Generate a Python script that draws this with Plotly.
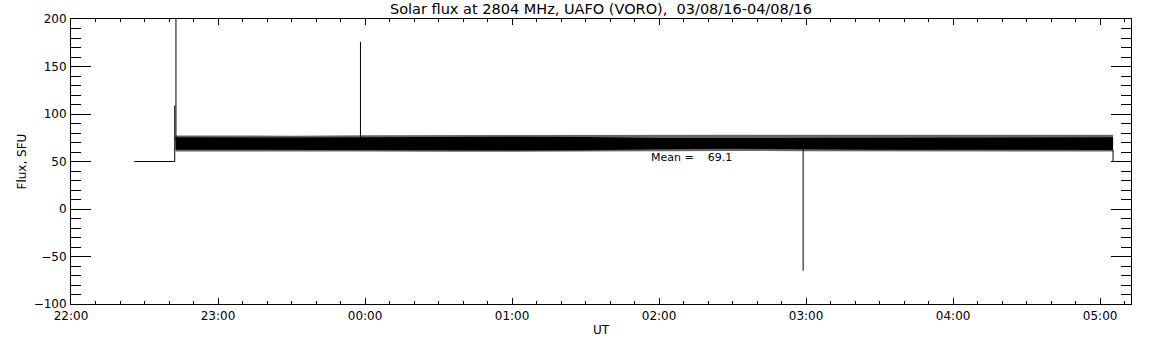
import plotly.graph_objects as go

# ---------------- data ----------------
title_text = "Solar flux at 2804 MHz, UAFO (VORO),\u00a0\u00a003/08/16-04/08/16"
x_range = ["2016-08-03 22:00:00", "2016-08-04 05:12:36"]
y_range = [-100, 200]
x_tick_vals = ["2016-08-03 22:00", "2016-08-03 23:00", "2016-08-04 00:00",
               "2016-08-04 01:00", "2016-08-04 02:00", "2016-08-04 03:00",
               "2016-08-04 04:00", "2016-08-04 05:00"]
x_tick_text = ["22:00", "23:00", "00:00", "01:00", "02:00", "03:00", "04:00", "05:00"]
y_tick_vals = [-100, -50, 0, 50, 100, 150, 200]

# flat calibration level before the run
base_t = ["2016-08-03 22:25:50", "2016-08-03 22:42:20", "2016-08-03 22:42:20"]
base_v = [50, 50, 109]

# isolated spikes (vertical strokes) and the final drop
spike_t = ["2016-08-03 22:42:50", "2016-08-03 22:42:50", None,
           "2016-08-03 23:58:08", "2016-08-03 23:58:08", None,
           "2016-08-04 02:58:48", "2016-08-04 02:58:48", None,
           "2016-08-04 05:05:17", "2016-08-04 05:05:17"]
spike_v = [72, 240, None,
           74, 176, None,
           63, -65, None,
           62, 50]

# envelope of the dense noisy record
band_t = ["2016-08-03 22:42:40", "2016-08-03 23:00", "2016-08-03 23:30",
          "2016-08-04 00:00", "2016-08-04 00:30", "2016-08-04 01:00",
          "2016-08-04 01:30", "2016-08-04 02:00", "2016-08-04 02:30",
          "2016-08-04 03:00", "2016-08-04 03:30", "2016-08-04 04:00",
          "2016-08-04 04:30", "2016-08-04 05:05:17"]
core_hi = [75.5, 75.2, 75.3, 75.6, 76.0, 76.0, 75.8, 74.8, 74.7, 74.8, 75.3, 75.4, 75.4, 75.5]
core_lo = [62.5, 62.6, 62.5, 62.2, 61.6, 61.5, 61.8, 63.0, 63.4, 63.0, 62.3, 62.0, 62.1, 62.2]
fringe_hi = [77.5, 77.2, 77.2, 77.6, 77.8, 77.9, 78.0, 78.2, 78.4, 78.2, 78.2, 78.4, 78.3, 78.2]
fringe_lo = [60.6, 60.7, 60.6, 60.5, 60.2, 60.2, 60.3, 60.8, 61.0, 60.9, 60.6, 60.4, 60.4, 60.5]

mean_value = 69.1
mean_pos_t = "2016-08-04 01:56:00"
mean_pos_v = 53.7

# ---------------- figure ----------------
FONT = "DejaVu Sans"
fig = go.Figure()

fig.add_trace(go.Scatter(
    x=band_t + band_t[::-1], y=fringe_hi + fringe_lo[::-1],
    fill="toself", fillcolor="rgba(0,0,0,0.6)", mode="lines",
    line=dict(width=0), hoverinfo="skip", showlegend=False))
fig.add_trace(go.Scatter(
    x=band_t + band_t[::-1], y=core_hi + core_lo[::-1],
    fill="toself", fillcolor="black", mode="lines",
    line=dict(width=0), hoverinfo="skip", showlegend=False))
fig.add_trace(go.Scatter(x=base_t, y=base_v, mode="lines",
                         line=dict(color="black", width=1), showlegend=False))
fig.add_trace(go.Scatter(x=spike_t, y=spike_v, mode="lines",
                         line=dict(color="black", width=1), connectgaps=False,
                         showlegend=False))

fig.add_annotation(x=mean_pos_t, y=mean_pos_v, xref="x", yref="y",
                   text="Mean =\u00a0\u00a0\u00a0\u00a0" + f"{mean_value:.1f}",
                   showarrow=False, xanchor="left", yanchor="middle",
                   font=dict(family=FONT, size=11, color="black"))
fig.add_annotation(x=0.5, y=(304 - 330) / 285, xref="paper", yref="paper",
                   text="UT", showarrow=False, xanchor="center", yanchor="middle",
                   font=dict(family=FONT, size=12, color="black"))
fig.add_annotation(x=(21 - 71) / 1060, y=0.5, xref="paper", yref="paper",
                   text="Flux, SFU", textangle=-90, showarrow=False,
                   xanchor="center", yanchor="middle",
                   font=dict(family=FONT, size=12, color="black"))

fig.update_layout(
    width=1152, height=345,
    margin=dict(l=71, r=21, t=19, b=41),
    paper_bgcolor="white", plot_bgcolor="white",
    font=dict(family=FONT, size=12, color="black"),
    title=dict(text=title_text, x=0.5, xref="paper", xanchor="center",
               y=1 - 8.5 / 345, yref="container", yanchor="middle",
               font=dict(family=FONT, size=14.5, color="black")),
    showlegend=False,
)
fig.update_xaxes(
    type="date", range=x_range, tickvals=x_tick_vals, ticktext=x_tick_text,
    showgrid=False, zeroline=False, showline=True, linecolor="black", linewidth=1,
    mirror="ticks", ticks="inside", ticklen=6, tickwidth=1, tickcolor="black",
    ticklabelstandoff=1,
    minor=dict(ticks="inside", ticklen=3, tickcolor="black", tickwidth=1,
               tick0="2016-08-03 22:00", dtick=600000, showgrid=False),
)
fig.update_yaxes(
    range=y_range, tickvals=y_tick_vals,
    showgrid=False, zeroline=False, showline=True, linecolor="black", linewidth=1,
    mirror="ticks", ticks="inside", ticklen=20, tickwidth=1, tickcolor="black",
    ticklabelstandoff=1,
    minor=dict(ticks="inside", ticklen=10, tickcolor="black", tickwidth=1,
               tick0=0, dtick=10, showgrid=False),
)

fig.write_html("out.html", config={"displayModeBar": False},
               post_script="document.body.style.margin='0';")
